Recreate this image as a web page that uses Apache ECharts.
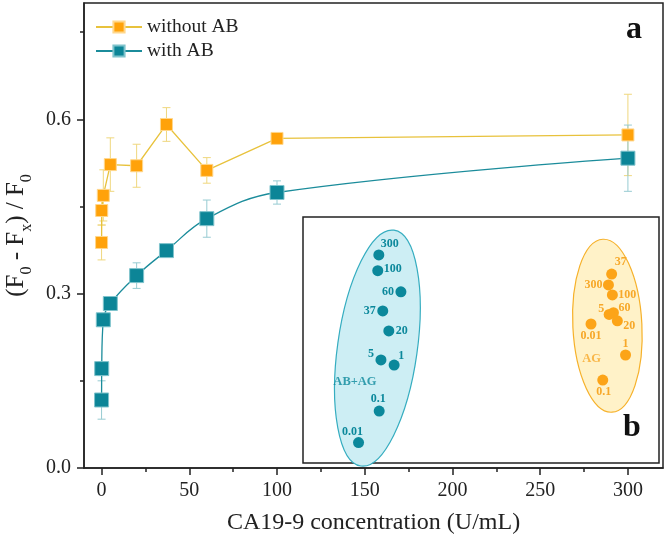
<!DOCTYPE html>
<html>
<head>
<meta charset="utf-8">
<title>CA19-9 response</title>
<script src="https://cdn.jsdelivr.net/npm/echarts@6/dist/echarts.min.js"></script>
<style>
  html, body { margin: 0; padding: 0; background: #fff; }
  #chart { width: 666px; height: 544px; }
</style>
</head>
<body>
<div id="chart"></div>
<script>
// panel a: CA19-9 concentration (U/mL) vs (F0 - Fx) / F0
const concentrations = [0.01, 0.1, 1, 5, 20, 37, 60, 100, 300];
const withoutAB = [0.388, 0.443, 0.469, 0.522, 0.520, 0.591, 0.512, 0.567, 0.573];
const withoutABErr = [0.03, 0.025, 0.044, 0.046, 0.037, 0.029, 0.022, 0.006, 0.07];
const withAB = [0.117, 0.171, 0.255, 0.283, 0.331, 0.374, 0.429, 0.474, 0.533];
const withABErr = [0.033, 0.012, 0.01, 0.008, 0.022, 0.008, 0.032, 0.02, 0.057];

const xTicks = [0, 50, 100, 150, 200, 250, 300];
const xMinorTicks = [25, 75, 125, 175, 225, 275];
const yTicks = [0, 0.3, 0.6];
const yMinorTicks = [0.15, 0.45, 0.75];

// panel b: score plot (arbitrary units 0-100)
const abagNames = ['300', '100', '60', '37', '20', '5', '1', '0.1', '0.01'];
const abagX = [21.3, 21.0, 27.5, 22.4, 24.1, 21.9, 25.6, 21.4, 15.6];
const abagY = [84.6, 78.2, 69.6, 61.8, 53.7, 41.9, 39.8, 21.1, 8.3];
const agNames = ['37', '300', '100', '60', '5', '20', '0.01', '1', '0.1'];
const agX = [86.7, 85.8, 86.9, 87.2, 86.0, 88.3, 80.9, 90.6, 84.2];
const agY = [76.8, 72.4, 68.3, 61.1, 60.4, 57.8, 56.5, 43.9, 33.7];
const groupNames = ['AB+AG', 'AG'];
const groupX = [14.6, 81.1];
const groupY = [33.0, 42.4];
// cluster ellipses: [cx, cy, rx, ry, tilt in degrees]
const abagEllipse = [20.9, 46.7, 11.2, 48.4, -8];
const agEllipse = [85.5, 55.8, 9.7, 35.2, 3];

// label offsets for the score plot (pixels from dot centre)
const abagLabelOffset = [[11, -11], [15, -2], [-13, 0], [-13, 0], [13, 0], [-10, -6], [7, -9], [-1, -12], [-6, -11]];
const agLabelOffset = [[9, -12], [-15, 0], [15, 0], [11, -5], [-8, -6], [12, 5], [0, 12], [0, -11], [1, 12]];

const TEAL = '#0c8597';
const ORANGE = '#ffa20a';
const SERIF = '"Liberation Serif", "Times New Roman", serif';

const pairs = (xs, ys) => xs.map((x, i) => [x, ys[i]]);
const triples = (xs, ys, es) => xs.map((x, i) => [x, ys[i], es[i]]);

function errorBarItem(color) {
  return function (params, api) {
    const x = api.value(0), y = api.value(1), e = api.value(2);
    const hi = api.coord([x, y + e]);
    const lo = api.coord([x, y - e]);
    const w = 4;
    const style = { stroke: color, lineWidth: 1 };
    return {
      type: 'group',
      children: [
        { type: 'line', shape: { x1: hi[0], y1: hi[1], x2: lo[0], y2: lo[1] }, style },
        { type: 'line', shape: { x1: hi[0] - w, y1: hi[1], x2: hi[0] + w, y2: hi[1] }, style },
        { type: 'line', shape: { x1: lo[0] - w, y1: lo[1], x2: lo[0] + w, y2: lo[1] }, style }
      ]
    };
  };
}

function ellipseItem(fill, stroke) {
  return function (params, api) {
    const c = api.coord([api.value(0), api.value(1)]);
    const rx = api.size([api.value(2), 0])[0];
    const ry = api.size([0, api.value(3)])[1];
    return {
      type: 'ellipse',
      x: c[0],
      y: c[1],
      rotation: api.value(4) * Math.PI / 180,
      shape: { cx: 0, cy: 0, rx: rx, ry: ry },
      style: { fill: fill, stroke: stroke, lineWidth: 1.2 }
    };
  };
}

function scoreData(xs, ys, names, offsets) {
  return xs.map((x, i) => ({
    value: [x, ys[i]],
    name: names[i],
    label: { offset: offsets[i] }
  }));
}

const chart = echarts.init(document.getElementById('chart'));

const option = {
  animation: false,
  backgroundColor: '#fff',
  textStyle: { fontFamily: SERIF },
  grid: [
    { left: 84, right: 3, top: 3, bottom: 76, outerBoundsMode: 'none', show: true, borderColor: '#222', borderWidth: 1.5 },
    { left: 303, top: 217, width: 356, height: 246, outerBoundsMode: 'none', show: true, backgroundColor: '#fff', borderColor: '#222', borderWidth: 1.5 }
  ],
  legend: {
    orient: 'vertical',
    left: 90,
    top: 12,
    itemWidth: 46,
    itemHeight: 14,
    itemGap: 4,
    textStyle: { fontFamily: SERIF, fontSize: 19.5, color: '#222', lineHeight: 20 },
    data: ['without AB', 'with AB']
  },
  xAxis: [
    {
      type: 'value', gridIndex: 0, min: -10, max: 320,
      name: 'CA19-9 concentration (U/mL)', nameLocation: 'middle', nameGap: 43,
      nameTextStyle: { fontFamily: SERIF, fontSize: 24, color: '#222' },
      axisLine: { onZero: false, lineStyle: { color: '#222', width: 1.5 } },
      axisTick: { inside: false, length: 7, lineStyle: { color: '#222', width: 1.5 }, customValues: xTicks },
      axisLabel: { fontFamily: SERIF, fontSize: 20, color: '#222', margin: 13, customValues: xTicks },
      splitLine: { show: false }
    },
    {
      type: 'value', gridIndex: 0, min: -10, max: 320, position: 'bottom',
      axisLine: { show: false, onZero: false },
      axisTick: { inside: false, length: 4, lineStyle: { color: '#222', width: 1.5 }, customValues: xMinorTicks },
      axisLabel: { show: false },
      splitLine: { show: false }
    },
    { type: 'value', gridIndex: 1, min: 0, max: 100, show: false }
  ],
  yAxis: [
    {
      type: 'value', gridIndex: 0, min: 0, max: 0.8,
      name: '{a|(F}{s|0}{a| - F}{s|x}{a|) / F}{s|0}', nameLocation: 'middle', nameGap: 43,
      nameTextStyle: {
        rich: {
          a: { fontFamily: SERIF, fontSize: 25, color: '#222', lineHeight: 24, verticalAlign: 'top' },
          s: { fontFamily: SERIF, fontSize: 16, color: '#222', lineHeight: 31, verticalAlign: 'bottom' }
        }
      },
      axisLine: { onZero: false, lineStyle: { color: '#222', width: 1.5 } },
      axisTick: { inside: false, length: 7, lineStyle: { color: '#222', width: 1.5 }, customValues: yTicks },
      axisLabel: {
        fontFamily: SERIF, fontSize: 20, color: '#222', margin: 13, customValues: yTicks,
        formatter: v => v.toFixed(1)
      },
      splitLine: { show: false }
    },
    {
      type: 'value', gridIndex: 0, min: 0, max: 0.8, position: 'left',
      axisLine: { show: false, onZero: false },
      axisTick: { inside: false, length: 4, lineStyle: { color: '#222', width: 1.5 }, customValues: yMinorTicks },
      axisLabel: { show: false },
      splitLine: { show: false }
    },
    { type: 'value', gridIndex: 1, min: 0, max: 100, show: false }
  ],
  series: [
    {
      name: 'without AB err', type: 'custom', xAxisIndex: 0, yAxisIndex: 0, z: 1,
      renderItem: errorBarItem('#efd77e'),
      data: triples(concentrations, withoutAB, withoutABErr)
    },
    {
      name: 'with AB err', type: 'custom', xAxisIndex: 0, yAxisIndex: 0, z: 1,
      renderItem: errorBarItem('#97cbd2'),
      data: triples(concentrations, withAB, withABErr)
    },
    {
      name: 'without AB', type: 'line', xAxisIndex: 0, yAxisIndex: 0,
      symbol: 'rect', symbolSize: 12,
      itemStyle: { color: ORANGE, borderColor: '#ffd78c', borderWidth: 1 },
      lineStyle: { color: '#e8c23c', width: 1.3 },
      data: pairs(concentrations, withoutAB)
    },
    {
      // smoothed through the measured points, close to the fitted curve
      name: 'with AB', type: 'line', xAxisIndex: 0, yAxisIndex: 0,
      symbol: 'rect', symbolSize: 14, smooth: 0.4,
      itemStyle: { color: TEAL, borderColor: '#7fc3cc', borderWidth: 1 },
      lineStyle: { color: '#1b8c9b', width: 1.3 },
      data: pairs(concentrations, withAB)
    },
    // panel b
    {
      name: 'abag ellipse', type: 'custom', xAxisIndex: 2, yAxisIndex: 2, z: 1, clip: false,
      renderItem: ellipseItem('#cdeef4', '#35adc0'),
      data: [abagEllipse]
    },
    {
      name: 'ag ellipse', type: 'custom', xAxisIndex: 2, yAxisIndex: 2, z: 1, clip: false,
      renderItem: ellipseItem('#fff2c8', '#f6b12a'),
      data: [agEllipse]
    },
    {
      name: 'AB+AG', type: 'scatter', xAxisIndex: 2, yAxisIndex: 2, z: 3,
      symbolSize: 11, itemStyle: { color: '#0b889b', opacity: 1 },
      label: {
        show: true, position: 'inside', formatter: '{b}',
        fontFamily: SERIF, fontWeight: 'bold', fontSize: 12, color: '#0b889b'
      },
      data: scoreData(abagX, abagY, abagNames, abagLabelOffset)
    },
    {
      name: 'AG', type: 'scatter', xAxisIndex: 2, yAxisIndex: 2, z: 3,
      symbolSize: 11, itemStyle: { color: '#fca418', opacity: 1 },
      label: {
        show: true, position: 'inside', formatter: '{b}',
        fontFamily: SERIF, fontWeight: 'bold', fontSize: 12, color: '#f7a829'
      },
      data: scoreData(agX, agY, agNames, agLabelOffset)
    },
    {
      name: 'group labels', type: 'scatter', xAxisIndex: 2, yAxisIndex: 2, z: 3,
      symbolSize: 0,
      label: {
        show: true, position: 'inside', formatter: '{b}',
        fontFamily: SERIF, fontWeight: 'bold', fontSize: 12.5
      },
      data: groupX.map((x, i) => ({
        value: [x, groupY[i]],
        name: groupNames[i],
        label: { color: i === 0 ? '#0b889b' : '#f7a829' }
      }))
    }
  ],
  graphic: [
    { type: 'text', left: 626, top: 14, style: { text: 'a', font: 'bold 32px ' + SERIF, fill: '#111' } },
    { type: 'text', left: 623, top: 412, style: { text: 'b', font: 'bold 32px ' + SERIF, fill: '#111' } }
  ]
};

chart.setOption(option);
</script>
</body>
</html>
